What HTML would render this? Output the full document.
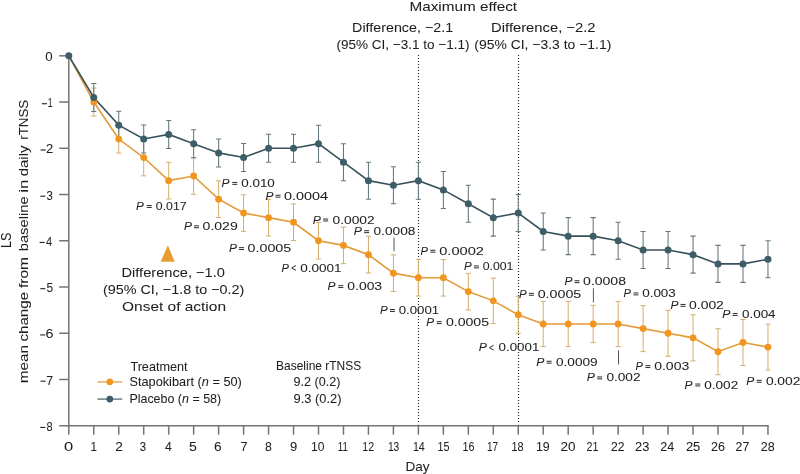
<!DOCTYPE html>
<html><head><meta charset="utf-8"><style>
html,body{margin:0;padding:0;background:#fff;}
svg{display:block;will-change:transform;}
text{font-family:"Liberation Sans",sans-serif;fill:#1f1f1f;stroke:#1f1f1f;stroke-width:0.05px;}
</style></head><body>
<svg width="800" height="474" viewBox="0 0 800 474">
<rect width="800" height="474" fill="#fff"/>
<g id="gfx">
<line x1="68.8" y1="55.8" x2="68.8" y2="426.47" stroke="#747474" stroke-width="1.5"/>
<line x1="59.2" y1="425.72" x2="768.7099999999999" y2="425.72" stroke="#747474" stroke-width="1.5"/>
<line x1="59.2" y1="55.8" x2="68.8" y2="55.8" stroke="#747474" stroke-width="1.5"/>
<line x1="59.2" y1="102.03999999999999" x2="68.8" y2="102.03999999999999" stroke="#747474" stroke-width="1.5"/>
<line x1="59.2" y1="148.28" x2="68.8" y2="148.28" stroke="#747474" stroke-width="1.5"/>
<line x1="59.2" y1="194.51999999999998" x2="68.8" y2="194.51999999999998" stroke="#747474" stroke-width="1.5"/>
<line x1="59.2" y1="240.76" x2="68.8" y2="240.76" stroke="#747474" stroke-width="1.5"/>
<line x1="59.2" y1="287.0" x2="68.8" y2="287.0" stroke="#747474" stroke-width="1.5"/>
<line x1="59.2" y1="333.24" x2="68.8" y2="333.24" stroke="#747474" stroke-width="1.5"/>
<line x1="59.2" y1="379.48" x2="68.8" y2="379.48" stroke="#747474" stroke-width="1.5"/>
<line x1="68.8" y1="425.72" x2="68.8" y2="434.72" stroke="#747474" stroke-width="1.5"/>
<line x1="93.77" y1="425.72" x2="93.77" y2="434.72" stroke="#747474" stroke-width="1.5"/>
<line x1="118.74" y1="425.72" x2="118.74" y2="434.72" stroke="#747474" stroke-width="1.5"/>
<line x1="143.70999999999998" y1="425.72" x2="143.70999999999998" y2="434.72" stroke="#747474" stroke-width="1.5"/>
<line x1="168.68" y1="425.72" x2="168.68" y2="434.72" stroke="#747474" stroke-width="1.5"/>
<line x1="193.64999999999998" y1="425.72" x2="193.64999999999998" y2="434.72" stroke="#747474" stroke-width="1.5"/>
<line x1="218.62" y1="425.72" x2="218.62" y2="434.72" stroke="#747474" stroke-width="1.5"/>
<line x1="243.58999999999997" y1="425.72" x2="243.58999999999997" y2="434.72" stroke="#747474" stroke-width="1.5"/>
<line x1="268.56" y1="425.72" x2="268.56" y2="434.72" stroke="#747474" stroke-width="1.5"/>
<line x1="293.53" y1="425.72" x2="293.53" y2="434.72" stroke="#747474" stroke-width="1.5"/>
<line x1="318.5" y1="425.72" x2="318.5" y2="434.72" stroke="#747474" stroke-width="1.5"/>
<line x1="343.46999999999997" y1="425.72" x2="343.46999999999997" y2="434.72" stroke="#747474" stroke-width="1.5"/>
<line x1="368.44" y1="425.72" x2="368.44" y2="434.72" stroke="#747474" stroke-width="1.5"/>
<line x1="393.41" y1="425.72" x2="393.41" y2="434.72" stroke="#747474" stroke-width="1.5"/>
<line x1="418.38" y1="425.72" x2="418.38" y2="434.72" stroke="#747474" stroke-width="1.5"/>
<line x1="443.34999999999997" y1="425.72" x2="443.34999999999997" y2="434.72" stroke="#747474" stroke-width="1.5"/>
<line x1="468.32" y1="425.72" x2="468.32" y2="434.72" stroke="#747474" stroke-width="1.5"/>
<line x1="493.29" y1="425.72" x2="493.29" y2="434.72" stroke="#747474" stroke-width="1.5"/>
<line x1="518.26" y1="425.72" x2="518.26" y2="434.72" stroke="#747474" stroke-width="1.5"/>
<line x1="543.2299999999999" y1="425.72" x2="543.2299999999999" y2="434.72" stroke="#747474" stroke-width="1.5"/>
<line x1="568.1999999999999" y1="425.72" x2="568.1999999999999" y2="434.72" stroke="#747474" stroke-width="1.5"/>
<line x1="593.17" y1="425.72" x2="593.17" y2="434.72" stroke="#747474" stroke-width="1.5"/>
<line x1="618.1399999999999" y1="425.72" x2="618.1399999999999" y2="434.72" stroke="#747474" stroke-width="1.5"/>
<line x1="643.1099999999999" y1="425.72" x2="643.1099999999999" y2="434.72" stroke="#747474" stroke-width="1.5"/>
<line x1="668.0799999999999" y1="425.72" x2="668.0799999999999" y2="434.72" stroke="#747474" stroke-width="1.5"/>
<line x1="693.05" y1="425.72" x2="693.05" y2="434.72" stroke="#747474" stroke-width="1.5"/>
<line x1="718.02" y1="425.72" x2="718.02" y2="434.72" stroke="#747474" stroke-width="1.5"/>
<line x1="742.9899999999999" y1="425.72" x2="742.9899999999999" y2="434.72" stroke="#747474" stroke-width="1.5"/>
<line x1="767.9599999999999" y1="425.72" x2="767.9599999999999" y2="434.72" stroke="#747474" stroke-width="1.5"/>
<line x1="418.50" y1="55.1" x2="418.50" y2="424.22" stroke="#222" stroke-width="1.1" stroke-dasharray="1 2"/>
<line x1="518.50" y1="55.1" x2="518.50" y2="424.22" stroke="#222" stroke-width="1.1" stroke-dasharray="1 2"/>
<path d="M93.77 88.04V116.04M91.17 88.04H96.37M91.17 116.04H96.37" stroke="#d5ad6c" stroke-width="1.0" fill="none"/>
<path d="M118.74 125.03V153.03M116.14 125.03H121.34M116.14 153.03H121.34" stroke="#d5ad6c" stroke-width="1.0" fill="none"/>
<path d="M143.71 139.23V175.83M141.11 139.23H146.31M141.11 175.83H146.31" stroke="#d5ad6c" stroke-width="1.0" fill="none"/>
<path d="M168.68 162.35V198.95M166.08 162.35H171.28M166.08 198.95H171.28" stroke="#d5ad6c" stroke-width="1.0" fill="none"/>
<path d="M193.65 157.72V194.32M191.05 157.72H196.25M191.05 194.32H196.25" stroke="#d5ad6c" stroke-width="1.0" fill="none"/>
<path d="M218.62 180.84V217.44M216.02 180.84H221.22M216.02 217.44H221.22" stroke="#d5ad6c" stroke-width="1.0" fill="none"/>
<path d="M243.59 194.72V231.32M240.99 194.72H246.19M240.99 231.32H246.19" stroke="#d5ad6c" stroke-width="1.0" fill="none"/>
<path d="M268.56 199.34V235.94M265.96 199.34H271.16M265.96 235.94H271.16" stroke="#d5ad6c" stroke-width="1.0" fill="none"/>
<path d="M293.53 203.96V240.56M290.93 203.96H296.13M290.93 240.56H296.13" stroke="#d5ad6c" stroke-width="1.0" fill="none"/>
<path d="M318.50 222.46V259.06M315.90 222.46H321.10M315.90 259.06H321.10" stroke="#d5ad6c" stroke-width="1.0" fill="none"/>
<path d="M343.47 227.08V263.68M340.87 227.08H346.07M340.87 263.68H346.07" stroke="#d5ad6c" stroke-width="1.0" fill="none"/>
<path d="M368.44 236.33V272.93M365.84 236.33H371.04M365.84 272.93H371.04" stroke="#d5ad6c" stroke-width="1.0" fill="none"/>
<path d="M393.41 254.83V291.43M390.81 254.83H396.01M390.81 291.43H396.01" stroke="#d5ad6c" stroke-width="1.0" fill="none"/>
<path d="M418.38 259.45V296.05M415.78 259.45H420.98M415.78 296.05H420.98" stroke="#d5ad6c" stroke-width="1.0" fill="none"/>
<path d="M443.35 259.45V296.05M440.75 259.45H445.95M440.75 296.05H445.95" stroke="#d5ad6c" stroke-width="1.0" fill="none"/>
<path d="M468.32 273.32V309.92M465.72 273.32H470.92M465.72 309.92H470.92" stroke="#d5ad6c" stroke-width="1.0" fill="none"/>
<path d="M493.29 278.17V323.57M490.69 278.17H495.89M490.69 323.57H495.89" stroke="#d5ad6c" stroke-width="1.0" fill="none"/>
<path d="M518.26 296.24V333.24M515.66 296.24H520.86M515.66 333.24H520.86" stroke="#d5ad6c" stroke-width="1.0" fill="none"/>
<path d="M543.23 301.39V346.59M540.63 301.39H545.83M540.63 346.59H545.83" stroke="#d5ad6c" stroke-width="1.0" fill="none"/>
<path d="M568.20 301.39V346.59M565.60 301.39H570.80M565.60 346.59H570.80" stroke="#d5ad6c" stroke-width="1.0" fill="none"/>
<path d="M593.17 305.29V342.69M590.57 305.29H595.77M590.57 342.69H595.77" stroke="#d5ad6c" stroke-width="1.0" fill="none"/>
<path d="M618.14 301.39V346.59M615.54 301.39H620.74M615.54 346.59H620.74" stroke="#d5ad6c" stroke-width="1.0" fill="none"/>
<path d="M643.11 305.62V351.62M640.51 305.62H645.71M640.51 351.62H645.71" stroke="#d5ad6c" stroke-width="1.0" fill="none"/>
<path d="M668.08 310.24V356.24M665.48 310.24H670.68M665.48 356.24H670.68" stroke="#d5ad6c" stroke-width="1.0" fill="none"/>
<path d="M693.05 314.86V360.86M690.45 314.86H695.65M690.45 360.86H695.65" stroke="#d5ad6c" stroke-width="1.0" fill="none"/>
<path d="M718.02 328.74V374.74M715.42 328.74H720.62M715.42 374.74H720.62" stroke="#d5ad6c" stroke-width="1.0" fill="none"/>
<path d="M742.99 319.49V365.49M740.39 319.49H745.59M740.39 365.49H745.59" stroke="#d5ad6c" stroke-width="1.0" fill="none"/>
<path d="M767.96 324.11V370.11M765.36 324.11H770.56M765.36 370.11H770.56" stroke="#d5ad6c" stroke-width="1.0" fill="none"/>
<path d="M93.77 83.42V111.42M91.17 83.42H96.37M91.17 111.42H96.37" stroke="#66777d" stroke-width="1.05" fill="none"/>
<path d="M118.74 111.16V139.16M116.14 111.16H121.34M116.14 139.16H121.34" stroke="#66777d" stroke-width="1.05" fill="none"/>
<path d="M143.71 125.03V153.03M141.11 125.03H146.31M141.11 153.03H146.31" stroke="#66777d" stroke-width="1.05" fill="none"/>
<path d="M168.68 120.41V148.41M166.08 120.41H171.28M166.08 148.41H171.28" stroke="#66777d" stroke-width="1.05" fill="none"/>
<path d="M193.65 129.66V157.66M191.05 129.66H196.25M191.05 157.66H196.25" stroke="#66777d" stroke-width="1.05" fill="none"/>
<path d="M218.62 138.90V166.90M216.02 138.90H221.22M216.02 166.90H221.22" stroke="#66777d" stroke-width="1.05" fill="none"/>
<path d="M243.59 143.53V171.53M240.99 143.53H246.19M240.99 171.53H246.19" stroke="#66777d" stroke-width="1.05" fill="none"/>
<path d="M268.56 134.28V162.28M265.96 134.28H271.16M265.96 162.28H271.16" stroke="#66777d" stroke-width="1.05" fill="none"/>
<path d="M293.53 134.28V162.28M290.93 134.28H296.13M290.93 162.28H296.13" stroke="#66777d" stroke-width="1.05" fill="none"/>
<path d="M318.50 125.16V162.16M315.90 125.16H321.10M315.90 162.16H321.10" stroke="#66777d" stroke-width="1.05" fill="none"/>
<path d="M343.47 143.65V180.65M340.87 143.65H346.07M340.87 180.65H346.07" stroke="#66777d" stroke-width="1.05" fill="none"/>
<path d="M368.44 162.15V199.15M365.84 162.15H371.04M365.84 199.15H371.04" stroke="#66777d" stroke-width="1.05" fill="none"/>
<path d="M393.41 166.77V203.77M390.81 166.77H396.01M390.81 203.77H396.01" stroke="#66777d" stroke-width="1.05" fill="none"/>
<path d="M418.38 162.15V199.15M415.78 162.15H420.98M415.78 199.15H420.98" stroke="#66777d" stroke-width="1.05" fill="none"/>
<path d="M443.35 171.40V208.40M440.75 171.40H445.95M440.75 208.40H445.95" stroke="#66777d" stroke-width="1.05" fill="none"/>
<path d="M468.32 185.27V222.27M465.72 185.27H470.92M465.72 222.27H470.92" stroke="#66777d" stroke-width="1.05" fill="none"/>
<path d="M493.29 199.14V236.14M490.69 199.14H495.89M490.69 236.14H495.89" stroke="#66777d" stroke-width="1.05" fill="none"/>
<path d="M518.26 194.52V231.52M515.66 194.52H520.86M515.66 231.52H520.86" stroke="#66777d" stroke-width="1.05" fill="none"/>
<path d="M543.23 213.01V250.01M540.63 213.01H545.83M540.63 250.01H545.83" stroke="#66777d" stroke-width="1.05" fill="none"/>
<path d="M568.20 217.64V254.64M565.60 217.64H570.80M565.60 254.64H570.80" stroke="#66777d" stroke-width="1.05" fill="none"/>
<path d="M593.17 217.64V254.64M590.57 217.64H595.77M590.57 254.64H595.77" stroke="#66777d" stroke-width="1.05" fill="none"/>
<path d="M618.14 222.26V259.26M615.54 222.26H620.74M615.54 259.26H620.74" stroke="#66777d" stroke-width="1.05" fill="none"/>
<path d="M643.11 231.51V268.51M640.51 231.51H645.71M640.51 268.51H645.71" stroke="#66777d" stroke-width="1.05" fill="none"/>
<path d="M668.08 231.51V268.51M665.48 231.51H670.68M665.48 268.51H670.68" stroke="#66777d" stroke-width="1.05" fill="none"/>
<path d="M693.05 236.13V273.13M690.45 236.13H695.65M690.45 273.13H695.65" stroke="#66777d" stroke-width="1.05" fill="none"/>
<path d="M718.02 245.38V282.38M715.42 245.38H720.62M715.42 282.38H720.62" stroke="#66777d" stroke-width="1.05" fill="none"/>
<path d="M742.99 245.38V282.38M740.39 245.38H745.59M740.39 282.38H745.59" stroke="#66777d" stroke-width="1.05" fill="none"/>
<path d="M767.96 240.76V277.76M765.36 240.76H770.56M765.36 277.76H770.56" stroke="#66777d" stroke-width="1.05" fill="none"/>
<polyline points="68.80,55.80 93.77,102.04 118.74,139.03 143.71,157.53 168.68,180.65 193.65,176.02 218.62,199.14 243.59,213.02 268.56,217.64 293.53,222.26 318.50,240.76 343.47,245.38 368.44,254.63 393.41,273.13 418.38,277.75 443.35,277.75 468.32,291.62 493.29,300.87 518.26,314.74 543.23,323.99 568.20,323.99 593.17,323.99 618.14,323.99 643.11,328.62 668.08,333.24 693.05,337.86 718.02,351.74 742.99,342.49 767.96,347.11" fill="none" stroke="#e39b38" stroke-width="1.6"/>
<polyline points="68.80,55.80 93.77,97.42 118.74,125.16 143.71,139.03 168.68,134.41 193.65,143.66 218.62,152.90 243.59,157.53 268.56,148.28 293.53,148.28 318.50,143.66 343.47,162.15 368.44,180.65 393.41,185.27 418.38,180.65 443.35,189.90 468.32,203.77 493.29,217.64 518.26,213.02 543.23,231.51 568.20,236.14 593.17,236.14 618.14,240.76 643.11,250.01 668.08,250.01 693.05,254.63 718.02,263.88 742.99,263.88 767.96,259.26" fill="none" stroke="#38525b" stroke-width="1.6"/>
<circle cx="93.77" cy="102.04" r="3.4" fill="#f2951f"/>
<circle cx="118.74" cy="139.03" r="3.4" fill="#f2951f"/>
<circle cx="143.71" cy="157.53" r="3.4" fill="#f2951f"/>
<circle cx="168.68" cy="180.65" r="3.4" fill="#f2951f"/>
<circle cx="193.65" cy="176.02" r="3.4" fill="#f2951f"/>
<circle cx="218.62" cy="199.14" r="3.4" fill="#f2951f"/>
<circle cx="243.59" cy="213.02" r="3.4" fill="#f2951f"/>
<circle cx="268.56" cy="217.64" r="3.4" fill="#f2951f"/>
<circle cx="293.53" cy="222.26" r="3.4" fill="#f2951f"/>
<circle cx="318.50" cy="240.76" r="3.4" fill="#f2951f"/>
<circle cx="343.47" cy="245.38" r="3.4" fill="#f2951f"/>
<circle cx="368.44" cy="254.63" r="3.4" fill="#f2951f"/>
<circle cx="393.41" cy="273.13" r="3.4" fill="#f2951f"/>
<circle cx="418.38" cy="277.75" r="3.4" fill="#f2951f"/>
<circle cx="443.35" cy="277.75" r="3.4" fill="#f2951f"/>
<circle cx="468.32" cy="291.62" r="3.4" fill="#f2951f"/>
<circle cx="493.29" cy="300.87" r="3.4" fill="#f2951f"/>
<circle cx="518.26" cy="314.74" r="3.4" fill="#f2951f"/>
<circle cx="543.23" cy="323.99" r="3.4" fill="#f2951f"/>
<circle cx="568.20" cy="323.99" r="3.4" fill="#f2951f"/>
<circle cx="593.17" cy="323.99" r="3.4" fill="#f2951f"/>
<circle cx="618.14" cy="323.99" r="3.4" fill="#f2951f"/>
<circle cx="643.11" cy="328.62" r="3.4" fill="#f2951f"/>
<circle cx="668.08" cy="333.24" r="3.4" fill="#f2951f"/>
<circle cx="693.05" cy="337.86" r="3.4" fill="#f2951f"/>
<circle cx="718.02" cy="351.74" r="3.4" fill="#f2951f"/>
<circle cx="742.99" cy="342.49" r="3.4" fill="#f2951f"/>
<circle cx="767.96" cy="347.11" r="3.4" fill="#f2951f"/>
<circle cx="68.80" cy="55.80" r="3.5" fill="#3d5e68"/>
<circle cx="93.77" cy="97.42" r="3.5" fill="#3d5e68"/>
<circle cx="118.74" cy="125.16" r="3.5" fill="#3d5e68"/>
<circle cx="143.71" cy="139.03" r="3.5" fill="#3d5e68"/>
<circle cx="168.68" cy="134.41" r="3.5" fill="#3d5e68"/>
<circle cx="193.65" cy="143.66" r="3.5" fill="#3d5e68"/>
<circle cx="218.62" cy="152.90" r="3.5" fill="#3d5e68"/>
<circle cx="243.59" cy="157.53" r="3.5" fill="#3d5e68"/>
<circle cx="268.56" cy="148.28" r="3.5" fill="#3d5e68"/>
<circle cx="293.53" cy="148.28" r="3.5" fill="#3d5e68"/>
<circle cx="318.50" cy="143.66" r="3.5" fill="#3d5e68"/>
<circle cx="343.47" cy="162.15" r="3.5" fill="#3d5e68"/>
<circle cx="368.44" cy="180.65" r="3.5" fill="#3d5e68"/>
<circle cx="393.41" cy="185.27" r="3.5" fill="#3d5e68"/>
<circle cx="418.38" cy="180.65" r="3.5" fill="#3d5e68"/>
<circle cx="443.35" cy="189.90" r="3.5" fill="#3d5e68"/>
<circle cx="468.32" cy="203.77" r="3.5" fill="#3d5e68"/>
<circle cx="493.29" cy="217.64" r="3.5" fill="#3d5e68"/>
<circle cx="518.26" cy="213.02" r="3.5" fill="#3d5e68"/>
<circle cx="543.23" cy="231.51" r="3.5" fill="#3d5e68"/>
<circle cx="568.20" cy="236.14" r="3.5" fill="#3d5e68"/>
<circle cx="593.17" cy="236.14" r="3.5" fill="#3d5e68"/>
<circle cx="618.14" cy="240.76" r="3.5" fill="#3d5e68"/>
<circle cx="643.11" cy="250.01" r="3.5" fill="#3d5e68"/>
<circle cx="668.08" cy="250.01" r="3.5" fill="#3d5e68"/>
<circle cx="693.05" cy="254.63" r="3.5" fill="#3d5e68"/>
<circle cx="718.02" cy="263.88" r="3.5" fill="#3d5e68"/>
<circle cx="742.99" cy="263.88" r="3.5" fill="#3d5e68"/>
<circle cx="767.96" cy="259.26" r="3.5" fill="#3d5e68"/>
<line x1="394.0" y1="237.5" x2="394.0" y2="251.3" stroke="#555" stroke-width="1"/>
<line x1="593.4" y1="288.2" x2="593.4" y2="302.4" stroke="#555" stroke-width="1"/>
<line x1="618.5" y1="350.4" x2="618.5" y2="364.4" stroke="#555" stroke-width="1"/>
<path d="M167.9 245.2L174.7 261.7H160.7Z" fill="#e89c32"/>
<line x1="97.4" y1="381.9" x2="122.2" y2="381.9" stroke="#eeb265" stroke-width="1.6"/>
<circle cx="109.8" cy="381.9" r="3.3" fill="#f2951f"/>
<line x1="97.4" y1="399.1" x2="122.2" y2="399.1" stroke="#72868e" stroke-width="1.6"/>
<circle cx="109.8" cy="399.1" r="3.4" fill="#3d5e68"/>
<path d="M146.80 205.55H151.80M146.80 207.45H151.80" stroke="#1f1f1f" stroke-width="0.95" fill="none"/>
<path d="M232.30 182.45H237.30M232.30 184.35H237.30" stroke="#1f1f1f" stroke-width="0.95" fill="none"/>
<path d="M194.00 225.85H199.00M194.00 227.75H199.00" stroke="#1f1f1f" stroke-width="0.95" fill="none"/>
<path d="M275.50 195.25H280.50M275.50 197.15H280.50" stroke="#1f1f1f" stroke-width="0.95" fill="none"/>
<path d="M239.00 247.65H244.00M239.00 249.55H244.00" stroke="#1f1f1f" stroke-width="0.95" fill="none"/>
<path d="M323.10 219.05H328.10M323.10 220.95H328.10" stroke="#1f1f1f" stroke-width="0.95" fill="none"/>
<path d="M364.10 230.75H369.10M364.10 232.65H369.10" stroke="#1f1f1f" stroke-width="0.95" fill="none"/>
<path d="M296.00 265.50L291.70 267.90L296.00 270.30" stroke="#1f1f1f" stroke-width="0.95" fill="none"/>
<path d="M338.30 285.65H343.30M338.30 287.55H343.30" stroke="#1f1f1f" stroke-width="0.95" fill="none"/>
<path d="M430.40 250.25H435.40M430.40 252.15H435.40" stroke="#1f1f1f" stroke-width="0.95" fill="none"/>
<path d="M473.90 265.95H478.90M473.90 267.85H478.90" stroke="#1f1f1f" stroke-width="0.95" fill="none"/>
<path d="M389.90 309.55H394.90M389.90 311.45H394.90" stroke="#1f1f1f" stroke-width="0.95" fill="none"/>
<path d="M436.70 321.65H441.70M436.70 323.55H441.70" stroke="#1f1f1f" stroke-width="0.95" fill="none"/>
<path d="M528.90 293.35H533.90M528.90 295.25H533.90" stroke="#1f1f1f" stroke-width="0.95" fill="none"/>
<path d="M493.70 345.30L489.40 347.70L493.70 350.10" stroke="#1f1f1f" stroke-width="0.95" fill="none"/>
<path d="M574.50 280.75H579.50M574.50 282.65H579.50" stroke="#1f1f1f" stroke-width="0.95" fill="none"/>
<path d="M633.40 292.95H638.40M633.40 294.85H638.40" stroke="#1f1f1f" stroke-width="0.95" fill="none"/>
<path d="M546.60 361.25H551.60M546.60 363.15H551.60" stroke="#1f1f1f" stroke-width="0.95" fill="none"/>
<path d="M597.20 376.95H602.20M597.20 378.85H602.20" stroke="#1f1f1f" stroke-width="0.95" fill="none"/>
<path d="M645.40 365.65H650.40M645.40 367.55H650.40" stroke="#1f1f1f" stroke-width="0.95" fill="none"/>
<path d="M680.50 304.45H685.50M680.50 306.35H685.50" stroke="#1f1f1f" stroke-width="0.95" fill="none"/>
<path d="M732.60 313.55H737.60M732.60 315.45H737.60" stroke="#1f1f1f" stroke-width="0.95" fill="none"/>
<path d="M695.30 384.05H700.30M695.30 385.95H700.30" stroke="#1f1f1f" stroke-width="0.95" fill="none"/>
<path d="M756.70 380.35H761.70M756.70 382.25H761.70" stroke="#1f1f1f" stroke-width="0.95" fill="none"/>
<path d="M41.90 103.74H47.00" stroke="#1f1f1f" stroke-width="1.1" fill="none"/>
<path d="M40.60 149.98H45.70" stroke="#1f1f1f" stroke-width="1.1" fill="none"/>
<path d="M40.30 196.22H45.40" stroke="#1f1f1f" stroke-width="1.1" fill="none"/>
<path d="M39.60 242.46H44.70" stroke="#1f1f1f" stroke-width="1.1" fill="none"/>
<path d="M40.30 288.70H45.40" stroke="#1f1f1f" stroke-width="1.1" fill="none"/>
<path d="M40.20 334.94H45.30" stroke="#1f1f1f" stroke-width="1.1" fill="none"/>
<path d="M40.50 381.18H45.60" stroke="#1f1f1f" stroke-width="1.1" fill="none"/>
<path d="M40.20 427.42H45.30" stroke="#1f1f1f" stroke-width="1.1" fill="none"/>
</g>
<g id="txt">
<text id="p0" x="155.80" y="210.00" style="font-size:11.6px" textLength="30.79" lengthAdjust="spacingAndGlyphs">0.017</text>
<text id="q0" x="136.10" y="210.00" style="font-size:11.6px" textLength="7.80" lengthAdjust="spacingAndGlyphs"><tspan font-style="italic">P</tspan></text>
<text id="p1" x="241.30" y="186.90" style="font-size:11.6px" textLength="33.50" lengthAdjust="spacingAndGlyphs">0.010</text>
<text id="q1" x="221.60" y="186.90" style="font-size:11.6px" textLength="7.96" lengthAdjust="spacingAndGlyphs"><tspan font-style="italic">P</tspan></text>
<text id="p2" x="202.60" y="230.30" style="font-size:11.6px" textLength="35.13" lengthAdjust="spacingAndGlyphs">0.029</text>
<text id="q2" x="183.90" y="230.30" style="font-size:11.6px" textLength="7.96" lengthAdjust="spacingAndGlyphs"><tspan font-style="italic">P</tspan></text>
<text id="p3" x="284.10" y="199.70" style="font-size:11.6px" textLength="43.91" lengthAdjust="spacingAndGlyphs">0.0004</text>
<text id="q3" x="265.40" y="199.70" style="font-size:11.6px" textLength="7.96" lengthAdjust="spacingAndGlyphs"><tspan font-style="italic">P</tspan></text>
<text id="p4" x="247.60" y="252.10" style="font-size:11.6px" textLength="43.67" lengthAdjust="spacingAndGlyphs">0.0005</text>
<text id="q4" x="228.90" y="252.10" style="font-size:11.6px" textLength="7.96" lengthAdjust="spacingAndGlyphs"><tspan font-style="italic">P</tspan></text>
<text id="p5" x="332.50" y="223.50" style="font-size:11.6px" textLength="42.10" lengthAdjust="spacingAndGlyphs">0.0002</text>
<text id="q5" x="312.80" y="223.50" style="font-size:11.6px" textLength="8.13" lengthAdjust="spacingAndGlyphs"><tspan font-style="italic">P</tspan></text>
<text id="p6" x="373.50" y="235.20" style="font-size:11.6px" textLength="41.89" lengthAdjust="spacingAndGlyphs">0.0008</text>
<text id="q6" x="353.80" y="235.20" style="font-size:11.6px" textLength="8.13" lengthAdjust="spacingAndGlyphs"><tspan font-style="italic">P</tspan></text>
<text id="p7" x="300.20" y="271.60" style="font-size:11.6px" textLength="41.29" lengthAdjust="spacingAndGlyphs">0.0001</text>
<text id="q7" x="281.50" y="271.60" style="font-size:11.6px" textLength="7.41" lengthAdjust="spacingAndGlyphs"><tspan font-style="italic">P</tspan></text>
<text id="p8" x="347.30" y="290.10" style="font-size:11.6px" textLength="34.82" lengthAdjust="spacingAndGlyphs">0.003</text>
<text id="q8" x="327.60" y="290.10" style="font-size:11.6px" textLength="7.96" lengthAdjust="spacingAndGlyphs"><tspan font-style="italic">P</tspan></text>
<text id="p9" x="439.20" y="254.70" style="font-size:11.6px" textLength="44.72" lengthAdjust="spacingAndGlyphs">0.0002</text>
<text id="q9" x="420.50" y="254.70" style="font-size:11.6px" textLength="7.41" lengthAdjust="spacingAndGlyphs"><tspan font-style="italic">P</tspan></text>
<text id="p10" x="482.70" y="270.40" style="font-size:11.6px" textLength="30.77" lengthAdjust="spacingAndGlyphs">0.001</text>
<text id="q10" x="464.00" y="270.40" style="font-size:11.6px" textLength="7.64" lengthAdjust="spacingAndGlyphs"><tspan font-style="italic">P</tspan></text>
<text id="p11" x="398.70" y="314.00" style="font-size:11.6px" textLength="40.43" lengthAdjust="spacingAndGlyphs">0.0001</text>
<text id="q11" x="380.00" y="314.00" style="font-size:11.6px" textLength="7.64" lengthAdjust="spacingAndGlyphs"><tspan font-style="italic">P</tspan></text>
<text id="p12" x="445.90" y="326.10" style="font-size:11.6px" textLength="43.11" lengthAdjust="spacingAndGlyphs">0.0005</text>
<text id="q12" x="426.20" y="326.10" style="font-size:11.6px" textLength="7.80" lengthAdjust="spacingAndGlyphs"><tspan font-style="italic">P</tspan></text>
<text id="p13" x="537.70" y="297.80" style="font-size:11.6px" textLength="43.55" lengthAdjust="spacingAndGlyphs">0.0005</text>
<text id="q13" x="519.00" y="297.80" style="font-size:11.6px" textLength="7.64" lengthAdjust="spacingAndGlyphs"><tspan font-style="italic">P</tspan></text>
<text id="p14" x="498.50" y="351.40" style="font-size:11.6px" textLength="40.82" lengthAdjust="spacingAndGlyphs">0.0001</text>
<text id="q14" x="478.80" y="351.40" style="font-size:11.6px" textLength="8.13" lengthAdjust="spacingAndGlyphs"><tspan font-style="italic">P</tspan></text>
<text id="p15" x="583.10" y="285.20" style="font-size:11.6px" textLength="42.88" lengthAdjust="spacingAndGlyphs">0.0008</text>
<text id="q15" x="564.40" y="285.20" style="font-size:11.6px" textLength="7.96" lengthAdjust="spacingAndGlyphs"><tspan font-style="italic">P</tspan></text>
<text id="p16" x="642.20" y="297.40" style="font-size:11.6px" textLength="33.60" lengthAdjust="spacingAndGlyphs">0.003</text>
<text id="q16" x="623.50" y="297.40" style="font-size:11.6px" textLength="7.41" lengthAdjust="spacingAndGlyphs"><tspan font-style="italic">P</tspan></text>
<text id="p17" x="556.00" y="365.70" style="font-size:11.6px" textLength="41.66" lengthAdjust="spacingAndGlyphs">0.0009</text>
<text id="q17" x="536.30" y="365.70" style="font-size:11.6px" textLength="8.13" lengthAdjust="spacingAndGlyphs"><tspan font-style="italic">P</tspan></text>
<text id="p18" x="606.40" y="381.40" style="font-size:11.6px" textLength="34.13" lengthAdjust="spacingAndGlyphs">0.002</text>
<text id="q18" x="586.70" y="381.40" style="font-size:11.6px" textLength="8.13" lengthAdjust="spacingAndGlyphs"><tspan font-style="italic">P</tspan></text>
<text id="p19" x="654.20" y="370.10" style="font-size:11.6px" textLength="35.07" lengthAdjust="spacingAndGlyphs">0.003</text>
<text id="q19" x="635.50" y="370.10" style="font-size:11.6px" textLength="7.41" lengthAdjust="spacingAndGlyphs"><tspan font-style="italic">P</tspan></text>
<text id="p20" x="689.10" y="308.90" style="font-size:11.6px" textLength="34.76" lengthAdjust="spacingAndGlyphs">0.002</text>
<text id="q20" x="670.40" y="308.90" style="font-size:11.6px" textLength="7.96" lengthAdjust="spacingAndGlyphs"><tspan font-style="italic">P</tspan></text>
<text id="p21" x="742.00" y="318.00" style="font-size:11.6px" textLength="33.56" lengthAdjust="spacingAndGlyphs">0.004</text>
<text id="q21" x="722.30" y="318.00" style="font-size:11.6px" textLength="8.13" lengthAdjust="spacingAndGlyphs"><tspan font-style="italic">P</tspan></text>
<text id="p22" x="704.30" y="388.50" style="font-size:11.6px" textLength="33.86" lengthAdjust="spacingAndGlyphs">0.002</text>
<text id="q22" x="684.60" y="388.50" style="font-size:11.6px" textLength="7.96" lengthAdjust="spacingAndGlyphs"><tspan font-style="italic">P</tspan></text>
<text id="p23" x="765.90" y="384.80" style="font-size:11.6px" textLength="34.45" lengthAdjust="spacingAndGlyphs">0.002</text>
<text id="q23" x="746.20" y="384.80" style="font-size:11.6px" textLength="7.96" lengthAdjust="spacingAndGlyphs"><tspan font-style="italic">P</tspan></text>
<text id="a0" x="409.45" y="11.05" style="font-size:12.7px" textLength="107.62" lengthAdjust="spacingAndGlyphs">Maximum effect</text>
<text id="a1" x="352.10" y="31.80" style="font-size:12.7px" textLength="101.00" lengthAdjust="spacingAndGlyphs">Difference, −2.1</text>
<text id="a2" x="336.40" y="48.70" style="font-size:12.7px" textLength="133.12" lengthAdjust="spacingAndGlyphs">(95% CI, −3.1 to −1.1)</text>
<text id="a3" x="491.10" y="31.90" style="font-size:12.7px" textLength="104.42" lengthAdjust="spacingAndGlyphs">Difference, −2.2</text>
<text id="a4" x="474.25" y="48.75" style="font-size:12.7px" textLength="137.05" lengthAdjust="spacingAndGlyphs">(95% CI, −3.3 to −1.1)</text>
<text id="b0" x="121.50" y="277.00" style="font-size:13.1px" textLength="103.41" lengthAdjust="spacingAndGlyphs">Difference, −1.0</text>
<text id="b1" x="102.90" y="293.60" style="font-size:13.1px" textLength="141.43" lengthAdjust="spacingAndGlyphs">(95% CI, −1.8 to −0.2)</text>
<text id="b2" x="122.10" y="310.50" style="font-size:13.1px" textLength="103.90" lengthAdjust="spacingAndGlyphs">Onset of action</text>
<text id="l0" x="130.40" y="370.60" style="font-size:12.1px" textLength="57.20" lengthAdjust="spacingAndGlyphs">Treatment</text>
<text id="l1" x="129.40" y="385.60" style="font-size:12.1px" textLength="112.47" lengthAdjust="spacingAndGlyphs">Stapokibart (<tspan font-style="italic">n</tspan> = 50)</text>
<text id="l2" x="129.40" y="402.60" style="font-size:12.1px" textLength="91.77" lengthAdjust="spacingAndGlyphs">Placebo (<tspan font-style="italic">n</tspan> = 58)</text>
<text id="l3" x="276.10" y="370.20" style="font-size:12.1px" textLength="85.06" lengthAdjust="spacingAndGlyphs">Baseline rTNSS</text>
<text id="l4" x="293.60" y="385.60" style="font-size:12.1px" textLength="46.96" lengthAdjust="spacingAndGlyphs">9.2 (0.2)</text>
<text id="l5" x="293.60" y="402.50" style="font-size:12.1px" textLength="47.87" lengthAdjust="spacingAndGlyphs">9.3 (0.2)</text>
<text id="day" x="405.50" y="470.80" style="font-size:12.2px" textLength="24.07" lengthAdjust="spacingAndGlyphs">Day</text>
<text id="y0" transform="translate(10.70,248.10) rotate(-90)" x="0" y="0" style="font-size:13.8px" textLength="15.49" lengthAdjust="spacingAndGlyphs">LS</text>
<text id="yw0" transform="translate(27.90,383.30) rotate(-90)" x="0" y="0" style="font-size:13.4px" textLength="38.17" lengthAdjust="spacingAndGlyphs">mean</text>
<text id="yw1" transform="translate(27.90,341.50) rotate(-90)" x="0" y="0" style="font-size:13.4px" textLength="49.58" lengthAdjust="spacingAndGlyphs">change</text>
<text id="yw2" transform="translate(27.90,288.10) rotate(-90)" x="0" y="0" style="font-size:13.4px" textLength="31.22" lengthAdjust="spacingAndGlyphs">from</text>
<text id="yw3" transform="translate(27.90,251.30) rotate(-90)" x="0" y="0" style="font-size:13.4px" textLength="55.01" lengthAdjust="spacingAndGlyphs">baseline</text>
<text id="yw4" transform="translate(27.90,192.70) rotate(-90)" x="0" y="0" style="font-size:13.4px" textLength="13.21" lengthAdjust="spacingAndGlyphs">in</text>
<text id="yw5" transform="translate(27.90,176.20) rotate(-90)" x="0" y="0" style="font-size:13.4px" textLength="30.64" lengthAdjust="spacingAndGlyphs">daily</text>
<text id="yw6" transform="translate(27.90,139.80) rotate(-90)" x="0" y="0" style="font-size:13.4px" textLength="40.02" lengthAdjust="spacingAndGlyphs">rTNSS</text>
<text id="x0" x="64.10" y="451.00" style="font-size:12px" textLength="9.18" lengthAdjust="spacingAndGlyphs">0</text>
<text id="x1" x="90.50" y="451.00" style="font-size:12px" textLength="6.46" lengthAdjust="spacingAndGlyphs">1</text>
<text id="x2" x="115.30" y="451.00" style="font-size:12px" textLength="7.63" lengthAdjust="spacingAndGlyphs">2</text>
<text id="x3" x="139.80" y="451.00" style="font-size:12px" textLength="6.36" lengthAdjust="spacingAndGlyphs">3</text>
<text id="x4" x="165.00" y="451.00" style="font-size:12px" textLength="6.83" lengthAdjust="spacingAndGlyphs">4</text>
<text id="x5" x="189.10" y="451.00" style="font-size:12px" textLength="7.86" lengthAdjust="spacingAndGlyphs">5</text>
<text id="x6" x="214.10" y="451.00" style="font-size:12px" textLength="7.63" lengthAdjust="spacingAndGlyphs">6</text>
<text id="x7" x="240.40" y="451.00" style="font-size:12px" textLength="7.01" lengthAdjust="spacingAndGlyphs">7</text>
<text id="x8" x="264.90" y="451.00" style="font-size:12px" textLength="6.87" lengthAdjust="spacingAndGlyphs">8</text>
<text id="x9" x="289.90" y="451.00" style="font-size:12px" textLength="7.23" lengthAdjust="spacingAndGlyphs">9</text>
<text id="x10" x="311.00" y="451.00" style="font-size:12px" textLength="13.43" lengthAdjust="spacingAndGlyphs">10</text>
<text id="x11" x="337.75" y="451.00" style="font-size:12px" textLength="10.00" lengthAdjust="spacingAndGlyphs">11</text>
<text id="x12" x="362.25" y="451.00" style="font-size:12px" textLength="11.82" lengthAdjust="spacingAndGlyphs">12</text>
<text id="x13" x="387.90" y="451.00" style="font-size:12px" textLength="11.41" lengthAdjust="spacingAndGlyphs">13</text>
<text id="x14" x="412.90" y="451.00" style="font-size:12px" textLength="11.88" lengthAdjust="spacingAndGlyphs">14</text>
<text id="x15" x="437.40" y="451.00" style="font-size:12px" textLength="12.00" lengthAdjust="spacingAndGlyphs">15</text>
<text id="x16" x="462.40" y="451.00" style="font-size:12px" textLength="11.98" lengthAdjust="spacingAndGlyphs">16</text>
<text id="x17" x="487.00" y="451.00" style="font-size:12px" textLength="11.05" lengthAdjust="spacingAndGlyphs">17</text>
<text id="x18" x="511.50" y="451.00" style="font-size:12px" textLength="12.04" lengthAdjust="spacingAndGlyphs">18</text>
<text id="x19" x="536.00" y="451.00" style="font-size:12px" textLength="13.72" lengthAdjust="spacingAndGlyphs">19</text>
<text id="x20" x="560.40" y="451.00" style="font-size:12px" textLength="15.06" lengthAdjust="spacingAndGlyphs">20</text>
<text id="x21" x="586.60" y="451.00" style="font-size:12px" textLength="11.86" lengthAdjust="spacingAndGlyphs">21</text>
<text id="x22" x="611.10" y="451.00" style="font-size:12px" textLength="13.51" lengthAdjust="spacingAndGlyphs">22</text>
<text id="x23" x="635.10" y="451.00" style="font-size:12px" textLength="14.36" lengthAdjust="spacingAndGlyphs">23</text>
<text id="x24" x="660.25" y="451.00" style="font-size:12px" textLength="14.02" lengthAdjust="spacingAndGlyphs">24</text>
<text id="x25" x="685.90" y="451.00" style="font-size:12px" textLength="14.40" lengthAdjust="spacingAndGlyphs">25</text>
<text id="x26" x="710.90" y="451.00" style="font-size:12px" textLength="13.99" lengthAdjust="spacingAndGlyphs">26</text>
<text id="x27" x="735.60" y="451.00" style="font-size:12px" textLength="13.69" lengthAdjust="spacingAndGlyphs">27</text>
<text id="x28" x="760.80" y="451.00" style="font-size:12px" textLength="13.89" lengthAdjust="spacingAndGlyphs">28</text>
<text id="yt0" x="45.25" y="60.90" style="font-size:12px" textLength="7.41" lengthAdjust="spacingAndGlyphs">0</text>
<text id="yt1" x="47.80" y="107.14" style="font-size:12px" textLength="4.82" lengthAdjust="spacingAndGlyphs">1</text>
<text id="yt2" x="46.10" y="153.38" style="font-size:12px" textLength="7.24" lengthAdjust="spacingAndGlyphs">2</text>
<text id="yt3" x="46.40" y="199.62" style="font-size:12px" textLength="6.36" lengthAdjust="spacingAndGlyphs">3</text>
<text id="yt4" x="46.10" y="245.86" style="font-size:12px" textLength="6.14" lengthAdjust="spacingAndGlyphs">4</text>
<text id="yt5" x="46.40" y="292.10" style="font-size:12px" textLength="6.62" lengthAdjust="spacingAndGlyphs">5</text>
<text id="yt6" x="45.50" y="338.34" style="font-size:12px" textLength="7.97" lengthAdjust="spacingAndGlyphs">6</text>
<text id="yt7" x="46.20" y="384.58" style="font-size:12px" textLength="6.85" lengthAdjust="spacingAndGlyphs">7</text>
<text id="yt8" x="46.50" y="430.82" style="font-size:12px" textLength="6.11" lengthAdjust="spacingAndGlyphs">8</text>
</g>
</svg>
</body></html>
